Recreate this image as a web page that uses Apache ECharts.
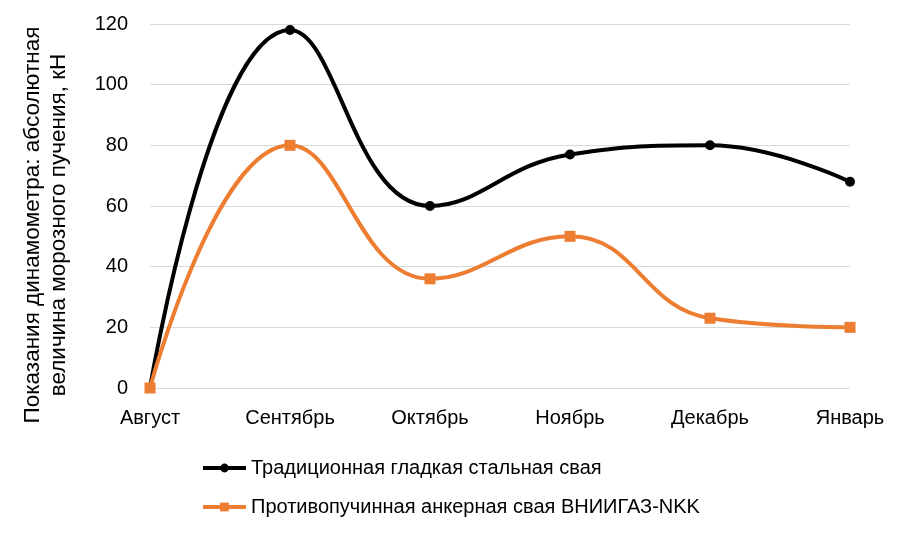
<!DOCTYPE html>
<html>
<head>
<meta charset="utf-8">
<script src="https://cdn.jsdelivr.net/npm/echarts@6/dist/echarts.min.js"></script>
<style>
  html, body { margin: 0; padding: 0; background: #fff; }
  #chart { width: 908px; height: 535px; }
</style>
</head>
<body>
<div id="chart"></div>
<script>
// месяцы наблюдений
const months = ["Август", "Сентябрь", "Октябрь", "Ноябрь", "Декабрь", "Январь"];
// показания динамометра, кН
const traditional = [0, 118, 60, 77, 80, 68];
const anchor = [0, 80, 36, 50, 23, 20];
const yTicks = [0, 20, 40, 60, 80, 100, 120];

const font = "'Liberation Sans Narrow', 'Arial Narrow', 'Liberation Sans', sans-serif";

const chart = echarts.init(document.getElementById("chart"));
chart.setOption({
  animation: false,
  textStyle: { fontFamily: font, color: "#000" },
  grid: { left: 150, right: 58, top: 24, bottom: 147, outerBoundsMode: "none" },
  legend: {
    orient: "vertical",
    left: 196,
    top: 453,
    itemGap: 19,
    itemWidth: 43,
    itemHeight: 11,
    lineStyle: { width: 4 },
    textStyle: { fontFamily: font, fontSize: 20, color: "#000" },
    data: ["Традиционная гладкая стальная свая", "Противопучинная анкерная свая ВНИИГАЗ-NKK"]
  },
  xAxis: {
    type: "category",
    data: months,
    boundaryGap: false,
    axisLine: { show: false },
    axisTick: { show: false },
    axisLabel: { fontFamily: font, fontSize: 20, color: "#000", margin: 20 }
  },
  yAxis: {
    type: "value",
    min: yTicks[0],
    max: yTicks[yTicks.length - 1],
    interval: 20,
    name: "Показания динамометра: абсолютная\nвеличина морозного пучения, кН",
    nameLocation: "middle",
    nameGap: 78,
    nameTextStyle: { fontFamily: font, fontSize: 22.5, color: "#000", lineHeight: 26, padding: [0, 38, 0, 0] },
    axisLine: { show: false },
    axisTick: { show: false },
    axisLabel: { fontFamily: font, fontSize: 20, color: "#000", margin: 22 },
    splitLine: { lineStyle: { color: "#d9d9d9", width: 1 } }
  },
  series: [
    {
      name: "Традиционная гладкая стальная свая",
      type: "line",
      data: traditional,
      smooth: 0.45,
      symbol: "circle",
      symbolSize: 10,
      lineStyle: { color: "#000", width: 4 },
      itemStyle: { color: "#000" },
      z: 3
    },
    {
      name: "Противопучинная анкерная свая ВНИИГАЗ-NKK",
      type: "line",
      data: anchor,
      smooth: 0.45,
      symbol: "rect",
      symbolSize: 11,
      lineStyle: { color: "#ed7d31", width: 4 },
      itemStyle: { color: "#ed7d31" },
      z: 4
    }
  ]
});
</script>
</body>
</html>
